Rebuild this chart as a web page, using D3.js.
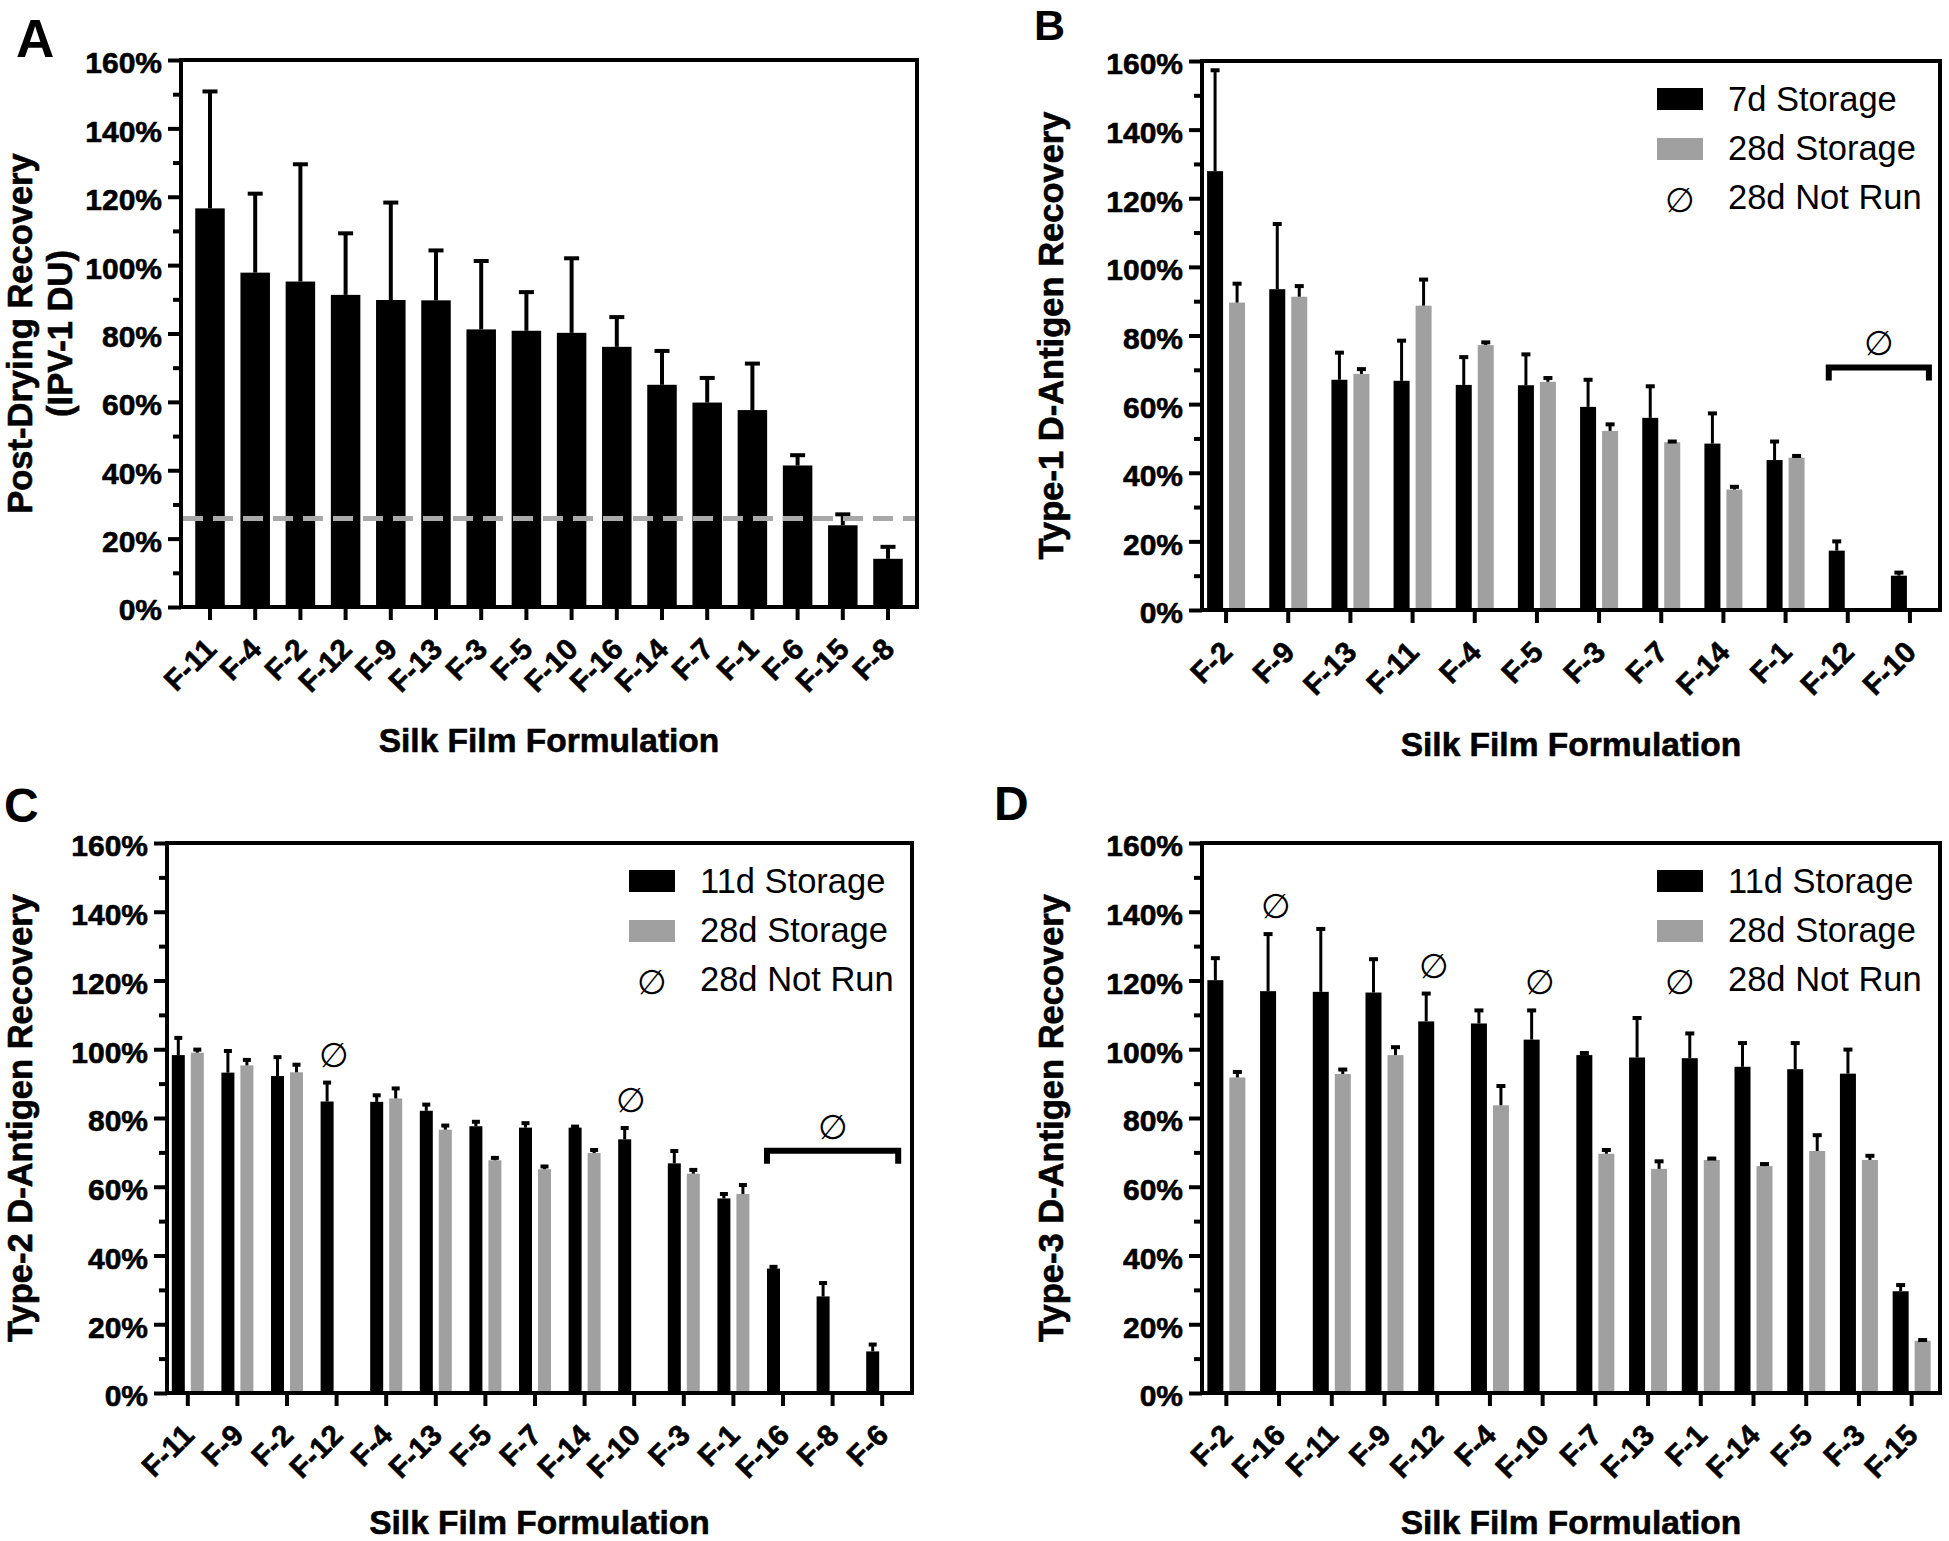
<!DOCTYPE html>
<html><head><meta charset="utf-8">
<script src="https://cdn.jsdelivr.net/npm/d3@7/dist/d3.min.js"></script>
<style>
body{margin:0;background:#fff;}
svg{display:block;}
text{font-family:"Liberation Sans", Arial, Helvetica, sans-serif;}
</style></head>
<body>
<svg id="fig" width="1949" height="1541"></svg>
<script>
// ---------------- DATA ----------------
const yTickValues = [0,20,40,60,80,100,120,140,160];
const yMinorValues = [10,30,50,70,90,110,130,150];
const xTitle = "Silk Film Formulation";
const notRunSymbol = "\u2205";

// Panel A
const catsA = ["F-11","F-4","F-2","F-12","F-9","F-13","F-3","F-5","F-10","F-16","F-14","F-7","F-1","F-6","F-15","F-8"];
const recoveryA = [116.6,97.8,95.2,91.3,89.8,89.7,81.2,80.8,80.2,76.1,65.0,59.8,57.6,41.4,23.9,14.1];
const sdA = [34.2,23.1,34.3,18.0,28.5,14.6,20.0,11.3,21.8,8.7,9.9,7.2,13.6,3.0,3.2,3.5];
const thresholdA = 25.9;
const yTitleA = ["Post-Drying Recovery","(IPV-1 DU)"];

// Panel B
const catsB = ["F-2","F-9","F-13","F-11","F-4","F-5","F-3","F-7","F-14","F-1","F-12","F-10"];
const d7B = [127.9,93.5,67.1,66.8,65.6,65.5,59.2,56.0,48.5,43.7,17.3,10.0];
const sd7B = [29.4,19.0,7.9,11.7,8.1,9.0,7.9,9.2,8.8,5.4,2.7,0.9];
const d28B = [89.6,91.3,68.8,88.7,77.2,66.5,52.2,48.9,35.1,44.4,null,null];
const sd28B = [5.5,3.1,1.4,7.6,0.8,1.1,1.9,0.2,0.8,0.5,null,null];
const legendB = ["7d Storage","28d Storage","28d Not Run"];
const bracketB = {from:"F-12", to:"F-10", level:70.7};
const yTitleB = ["Type-1 D-Antigen Recovery"];

// Panel C
const catsC = ["F-11","F-9","F-2","F-12","F-4","F-13","F-5","F-7","F-14","F-10","F-3","F-1","F-16","F-8","F-6"];
const d11C = [98.3,93.2,92.2,84.8,84.7,82.1,77.6,77.2,77.2,73.8,66.8,56.6,36.2,28.1,12.1];
const sd11C = [5.0,6.3,5.5,5.5,1.9,1.8,1.3,1.3,0.3,3.3,3.6,1.3,0.5,3.9,2.0];
const d28C = [99.0,95.3,93.3,null,85.7,76.6,67.7,65.1,69.8,null,63.8,57.9,null,null,null];
const sd28C = [0.9,1.6,2.2,null,2.9,1.2,0.7,0.8,0.9,null,1.1,2.6,null,null,null];
const legendC = ["11d Storage","28d Storage","28d Not Run"];
const bracketC = {from:"F-16", to:"F-6", level:70.5};
const yTitleC = ["Type-2 D-Antigen Recovery"];

// Panel D
const catsD = ["F-2","F-16","F-11","F-9","F-12","F-4","F-10","F-7","F-13","F-1","F-14","F-5","F-3","F-15"];
const d11D = [120.1,116.9,116.7,116.5,108.1,107.5,102.8,98.3,97.6,97.4,94.9,94.2,92.9,29.6];
const sd11D = [6.4,16.6,18.3,9.7,8.1,3.8,8.5,0.6,11.5,7.2,6.9,7.6,7.0,1.8];
const d28D = [91.8,null,92.8,98.3,null,83.7,null,69.6,65.2,67.8,66.0,70.4,67.8,15.2];
const sd28D = [1.6,null,1.3,2.3,null,5.6,null,1.1,2.2,0.4,0.6,4.6,1.2,0.2];
const legendD = ["11d Storage","28d Storage","28d Not Run"];
const yTitleD = ["Type-3 D-Antigen Recovery"];

// ---------------- DRAWING ----------------
const BLACK = "#000", GRAY = "#a0a0a0";
const svg = d3.select("#fig");
const FONT = '"Liberation Sans", Arial, sans-serif';

function heavy(sel, w) {
  return sel.attr("stroke", BLACK).attr("stroke-width", w).attr("paint-order","stroke").attr("stroke-linejoin","round");
}

function drawPanel(p) {
  const g = svg.append("g");
  const y = d3.scaleLinear().domain([0,160]).range([p.B, p.T]);
  const x = d3.scaleBand().domain(p.cats).range(p.band);
  const n = p.series.length;
  const W = n*p.barW + (n-1)*p.gap;
  const inner = d3.scaleBand().domain(d3.range(n)).range([-W/2, W/2])
      .paddingInner(n > 1 ? p.gap/(p.barW+p.gap) : 0).paddingOuter(0);
  const cx = c => x(c) + x.bandwidth()/2;

  // bars
  p.series.forEach((s, si) => {
    const rows = p.cats.map((c,i)=>({c, v:s.vals[i], e:s.errs[i]})).filter(d=>d.v!=null);
    g.append("g").selectAll("rect").data(rows).join("rect")
      .attr("x", d=>cx(d.c)+inner(si)).attr("width", inner.bandwidth())
      .attr("y", d=>y(d.v)).attr("height", d=>y(0)-y(d.v)).attr("fill", s.color);
  });
  // error bars (upper only)
  p.series.forEach((s, si) => {
    const rows = p.cats.map((c,i)=>({c, v:s.vals[i], e:s.errs[i]})).filter(d=>d.v!=null);
    const bx = d => cx(d.c)+inner(si)+inner.bandwidth()/2;
    const eg = g.append("g").attr("stroke", BLACK);
    eg.selectAll("line.stem").data(rows).join("line").attr("class","stem")
      .attr("x1", bx).attr("x2", bx).attr("y1", d=>y(d.v)).attr("y2", d=>y(d.v+d.e))
      .attr("stroke-width", p.stemW);
    eg.selectAll("line.cap").data(rows).join("line").attr("class","cap")
      .attr("x1", d=>bx(d)-p.capW/2).attr("x2", d=>bx(d)+p.capW/2)
      .attr("y1", d=>y(d.v+d.e)).attr("y2", d=>y(d.v+d.e))
      .attr("stroke-width", p.capSw);
  });

  // threshold line
  if (p.threshold != null) {
    g.append("line").attr("x1", p.L+2).attr("x2", p.R-2)
      .attr("y1", y(p.threshold)).attr("y2", y(p.threshold))
      .attr("stroke", "#a8a8a8").attr("stroke-width", 5).attr("stroke-dasharray", "20,10");
  }

  // "not run" markers
  if (p.notRun) {
    const bracketCats = p.bracket ? p.cats.slice(p.cats.indexOf(p.bracket.from), p.cats.indexOf(p.bracket.to)+1) : [];
    const s0 = p.series[0], s1 = p.series[1];
    p.cats.forEach((c,i) => {
      if (s1.vals[i] == null && !bracketCats.includes(c)) {
        g.append("text").attr("x", cx(c)-3).attr("y", y(s0.vals[i]+s0.errs[i]) - 28)
          .attr("text-anchor","middle").attr("dominant-baseline","central")
          .attr("font-size", 34).text(notRunSymbol);
      }
    });
    if (p.bracket) {
      const x0 = cx(p.bracket.from) - W/2, x1 = cx(p.bracket.to) + W/2;
      const yb = y(p.bracket.level);
      g.append("path").attr("d", `M${x0},${yb+13}V${yb}H${x1}V${yb+13}`)
        .attr("fill","none").attr("stroke",BLACK).attr("stroke-width",6).attr("stroke-linejoin","miter");
      g.append("text").attr("x", (x0+x1)/2).attr("y", yb-24)
        .attr("text-anchor","middle").attr("dominant-baseline","central")
        .attr("font-size", 34).text(notRunSymbol);
    }
  }

  // y axis (major + minor)
  const ya = g.append("g").attr("transform",`translate(${p.L},0)`)
    .call(d3.axisLeft(y).tickValues(yTickValues).tickSize(13).tickSizeOuter(0).tickPadding(6).tickFormat(d=>d+"%"));
  ya.select(".domain").remove();
  ya.selectAll(".tick line").attr("stroke-width", 4);
  heavy(ya.selectAll(".tick text").attr("font-size", 30).attr("font-weight","bold").attr("fill",BLACK)
    .attr("dy","0.43em").style("font-family",FONT), 0.6);
  const ym = g.append("g").attr("transform",`translate(${p.L},0)`)
    .call(d3.axisLeft(y).tickValues(yMinorValues).tickSize(8).tickSizeOuter(0).tickFormat(""));
  ym.select(".domain").remove();
  ym.selectAll(".tick line").attr("stroke-width", 4);

  // x axis
  const xa = g.append("g").attr("transform",`translate(0,${p.B})`)
    .call(d3.axisBottom(x).tickSize(13).tickSizeOuter(0));
  xa.select(".domain").remove();
  xa.selectAll(".tick line").attr("stroke-width", 4);
  heavy(xa.selectAll(".tick text").attr("font-size", 29.5).attr("font-weight","bold").attr("fill",BLACK)
    .attr("x", 8).attr("y", 44).attr("dy", 0).attr("text-anchor","end")
    .attr("transform","rotate(-45, 8, 44)").style("font-family",FONT), 0.6);

  // frame
  g.append("path").attr("d", `M${p.L},${p.B}V${p.T}H${p.R}V${p.B}Z`)
    .attr("fill","none").attr("stroke",BLACK).attr("stroke-width",4);

  // legend
  if (p.legend) {
    const lg = g.append("g");
    const rx = p.R - 283, tx = p.R - 212;
    [BLACK, GRAY].forEach((col, i) => {
      lg.append("rect").attr("x", rx).attr("y", p.T + 27 + i*50).attr("width", 46).attr("height", 22).attr("fill", col);
    });
    p.legend.forEach((t, i) => {
      lg.append("text").attr("x", tx).attr("y", p.T + 50 + i*49).attr("font-size", 34.5).attr("fill",BLACK).text(t);
    });
    lg.append("text").attr("x", rx + 23).attr("y", p.T + 139).attr("text-anchor","middle")
      .attr("dominant-baseline","central").attr("font-size", 34).text(notRunSymbol);
  }

  // titles
  heavy(g.append("text").attr("x", (p.L+p.R)/2).attr("y", p.xTitleY).attr("text-anchor","middle")
    .attr("font-size", 33.5).attr("font-weight","bold").text(xTitle), 0.6);
  p.yTitle.forEach((t, i) => {
    const bx = p.yTitleX[i], by = (p.T+p.B)/2;
    heavy(g.append("text").attr("x", bx).attr("y", by).attr("transform", `rotate(-90, ${bx}, ${by})`)
      .attr("text-anchor","middle").attr("font-size", 34.5).attr("font-weight","bold").text(t), 0.6);
  });
  // panel letter
  g.append("text").attr("x", p.letterX).attr("y", p.letterY).attr("font-size", p.letterSize)
    .attr("font-weight","bold").text(p.letter);
}

drawPanel({
  letter:"A", letterX:16, letterY:57, letterSize:53,
  L:181, R:917, T:60, B:607, band:[187.4, 910.6], cats:catsA,
  series:[{vals:recoveryA, errs:sdA, color:BLACK}],
  barW:29.5, gap:0, stemW:4, capW:15, capSw:4,
  threshold:thresholdA,
  yTitle:yTitleA, yTitleX:[32, 72], xTitleY:752
});
drawPanel({
  letter:"B", letterX:1034, letterY:40, letterSize:43,
  L:1202, R:1940, T:61, B:610, band:[1195, 1941], cats:catsB,
  series:[{vals:d7B, errs:sd7B, color:BLACK},{vals:d28B, errs:sd28B, color:GRAY}],
  barW:16, gap:6, stemW:3, capW:9, capSw:4,
  notRun:true, bracket:bracketB, legend:legendB,
  yTitle:yTitleB, yTitleX:[1063], xTitleY:756
});
drawPanel({
  letter:"C", letterX:4, letterY:822, letterSize:48,
  L:167, R:912, T:843, B:1393, band:[163, 907], cats:catsC,
  series:[{vals:d11C, errs:sd11C, color:BLACK},{vals:d28C, errs:sd28C, color:GRAY}],
  barW:13, gap:6, stemW:3, capW:8, capSw:4,
  notRun:true, bracket:bracketC, legend:legendC,
  yTitle:yTitleC, yTitleX:[32], xTitleY:1534
});
drawPanel({
  letter:"D", letterX:994, letterY:820, letterSize:48,
  L:1202, R:1940, T:843, B:1393, band:[1200, 1938], cats:catsD,
  series:[{vals:d11D, errs:sd11D, color:BLACK},{vals:d28D, errs:sd28D, color:GRAY}],
  barW:16, gap:6, stemW:3, capW:9, capSw:4,
  notRun:true, legend:legendD,
  yTitle:yTitleD, yTitleX:[1063], xTitleY:1534
});
</script>
</body></html>
